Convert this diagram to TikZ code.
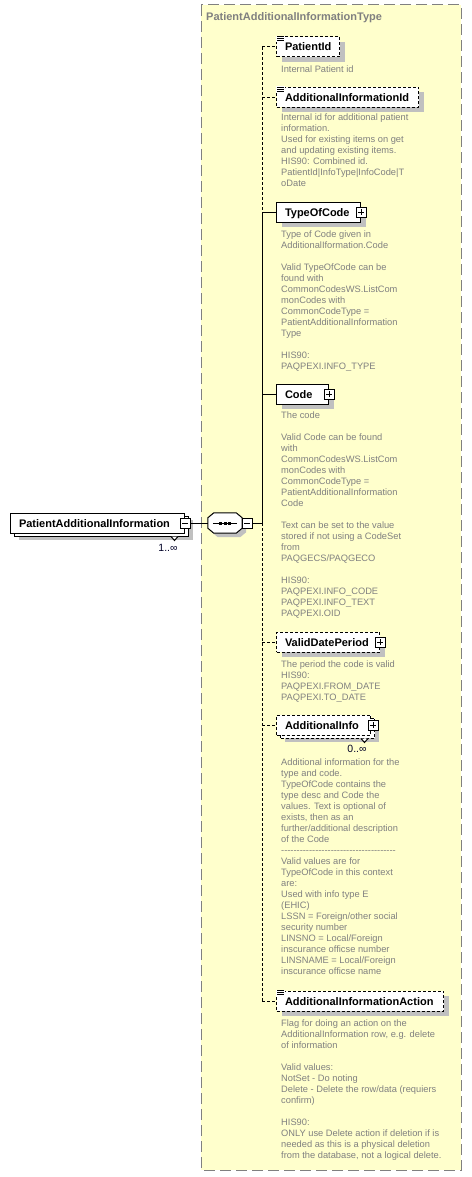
\documentclass[tikz,border=0pt]{standalone}
\usepackage{fontspec}
\setmainfont{Liberation Sans}[Ligatures=TeXOff]
\usetikzlibrary{calc,shadows}
\definecolor{bgyellow}{RGB}{255,255,204}
\definecolor{desc}{RGB}{128,128,128}
\definecolor{shade}{RGB}{192,192,192}
\begin{document}
\begin{tikzpicture}[x=1pt,y=-1pt,
  lw/.style={line width=1pt},
  opt/.style={dash pattern=on 3pt off 2pt},
  elem/.style={draw, fill=white, line width=1pt, minimum height=20, inner ysep=0, inner xsep=8.5,
    align=left, anchor=west, text height=8, text depth=0, font=\bfseries\fontsize{11}{13}\selectfont},
  shd/.style={drop shadow={shadow xshift=5pt, shadow yshift=-5pt, fill=shade, opacity=1}},
  shdm/.style={drop shadow={shadow xshift=4pt, shadow yshift=-4pt, fill=shade, opacity=1}},
  icon/.style={draw, fill=white, line width=1pt, minimum size=10, inner sep=0,
    drop shadow={shadow xshift=1pt, shadow yshift=-1pt, fill=black!70, opacity=1}},
  minusicon/.style={icon, path picture={\draw[line width=1pt] ([xshift=2pt]path picture bounding box.west) -- ([xshift=-2pt]path picture bounding box.east);}},
  plusicon/.style={icon, path picture={\draw[line width=1pt] ([xshift=2pt]path picture bounding box.west) -- ([xshift=-2pt]path picture bounding box.east);
      \draw[line width=1pt] ([yshift=2pt]path picture bounding box.south) -- ([yshift=-2pt]path picture bounding box.north);}},
  desctext/.style={anchor=north west, inner sep=0, align=left, text=desc,
    font=\fontsize{9.3}{11}\selectfont, execute at begin node={\rule{0pt}{8pt}}},
  card/.style={inner sep=0, text=black!85!blue, font=\fontsize{10.5}{12}\selectfont}
]
\useasboundingbox (0,0) rectangle (471,1177);
% outer type frame
\draw[draw=desc, lw, dash pattern=on 11pt off 5pt, fill=bgyellow] (201,5) rectangle (461,1170);
\node[anchor=west, inner sep=0, text=desc, text height=8, text depth=0,
  font=\bfseries\fontsize{11}{13}\selectfont] (title) at (206,17) {PatientAdditionalInformationType};

% left element (multiple)
\node[elem, shdm, text width=157] (lelb) at (14,526) {};
\node[elem, text width=157] (lel) at (10,523) {PatientAdditionalInformation};
\draw[lw, fill=white] ($(lelb.south east)+(-18,0)$) -- ($(lelb.south east)+(-14.5,4)$) -- ($(lelb.south east)+(-11,0)$);
\node[minusicon] (lmin) at (lel.east) {};
\node[card] (card1) at (168,548) {1..∞};

% sequence compositor
\node[minimum width=34, minimum height=20, inner sep=0] (seq) at (225,523) {};
\draw[lw, fill=white, drop shadow={shadow xshift=4pt, shadow yshift=-4pt, fill=shade, opacity=1}]
  ($(seq.north west)+(6,0)$) -- ($(seq.north east)+(-6,0)$) -- ($(seq.north east)+(0,5)$) --
  ($(seq.south east)+(0,-5)$) -- ($(seq.south east)+(-6,0)$) -- ($(seq.south west)+(6,0)$) --
  ($(seq.south west)+(0,-5)$) -- ($(seq.north west)+(0,5)$) -- cycle;
\draw[lw] ($(seq.west)+(5,0)$) -- ($(seq.east)+(-5,0)$);
\foreach \dx in {-4.5,0,4.5}
  \fill ($(seq.center)+(\dx-1.5,-1.5)$) rectangle ($(seq.center)+(\dx+1.5,1.5)$);
\node[minusicon] (smin) at ($(seq.east)+(5,0)$) {};
\coordinate (s0) at (262,523);

% child elements
\node[elem, opt, shd, text width=46] (pid) at (276,47) {PatientId};
\node[elem, opt, shd, text width=125] (aiid) at (276,97.5) {AdditionalInformationId};
\node[elem, shd, text width=67] (toc) at (276,212) {TypeOfCode};
\node[plusicon] (tocp) at (toc.east) {};
\node[elem, shd, text width=35] (code) at (276,394) {Code};
\node[plusicon] (codep) at (code.east) {};
\node[elem, opt, shd, text width=86] (vdp) at (276,642) {ValidDatePeriod};
\node[plusicon] (vdpp) at (vdp.east) {};
\node[elem, opt, shdm, text width=77] (ainfb) at (280,728) {};
\node[elem, opt, text width=77] (ainf) at (276,725) {AdditionalInfo};
\draw[lw, fill=white] ($(ainfb.south east)+(-14,0)$) -- ($(ainfb.south east)+(-10.5,4)$) -- ($(ainfb.south east)+(-7,0)$);
\node[plusicon] (ainfp) at ($(ainf.east)+(2,0)$) {};
\node[card] (card2) at (357,749) {0..∞};
\node[elem, opt, shd, text width=150] (act) at (276,1001) {AdditionalInformationAction};

% simple-type icons
\foreach \n in {pid,aiid,act}{
  \fill[white] ($(\n.north west)+(-0.5,-0.5)$) rectangle ($(\n.north west)+(9,6)$);
  \foreach \d in {0,2,4}
    \draw[line width=0.9pt] ($(\n.north west)+(1,\d)$) -- ($(\n.north west)+(8,\d)$);
}

% connectors
\draw[lw] (lmin.east) -- (seq.west);
\draw[lw] (smin.east) -- (s0);
\draw[lw, opt] (s0 |- pid.west) -- (s0 |- toc.west);
\draw[lw] (s0 |- toc.west) -- (s0);
\draw[lw, opt] (s0) -- (s0 |- act.west);
\draw[lw, opt] (s0 |- pid.west) -- (pid.west);
\draw[lw, opt] (s0 |- aiid.west) -- (aiid.west);
\draw[lw] (s0 |- toc.west) -- (toc.west);
\draw[lw] (s0 |- code.west) -- (code.west);
\draw[lw, opt] (s0 |- vdp.west) -- (vdp.west);
\draw[lw, opt] (s0 |- ainf.west) -- (ainf.west);
\draw[lw, opt] (s0 |- act.west) -- (act.west);

% descriptions
\node[desctext] (d1) at (281,64) {Internal Patient id};
\node[desctext] (d2) at (281,113.5) {Internal id for additional patient\\information.\\Used for existing items on get\\and updating existing items.\\HIS90: Combined id.\\PatientId|InfoType|InfoCode|T\\oDate};
\node[desctext] (d3) at (281,230.5) {Type of Code given in\\AdditionalIformation.Code\\~\\Valid TypeOfCode can be\\found with\\CommonCodesWS.ListCom\\monCodes with\\CommonCodeType =\\PatientAdditionalInformation\\Type\\~\\HIS90:\\PAQPEXI.INFO\_TYPE};
\node[desctext] (d4) at (281,412) {The code\\~\\Valid Code can be found\\with\\CommonCodesWS.ListCom\\monCodes with\\CommonCodeType =\\PatientAdditionalInformation\\Code\\~\\Text can be set to the value\\stored if not using a CodeSet\\from\\PAQGECS/PAQGECO\\~\\HIS90:\\PAQPEXI.INFO\_CODE\\PAQPEXI.INFO\_TEXT\\PAQPEXI.OID};
\node[desctext] (d5) at (281,660.5) {The period the code is valid\\HIS90:\\PAQPEXI.FROM\_DATE\\PAQPEXI.TO\_DATE};
\node[desctext] (d6) at (281,759) {Additional information for the\\type and code.\\TypeOfCode contains the\\type desc and Code the\\values. Text is optional of\\exists, then as an\\further/additional description\\of the Code\\-------------------------------------\\Valid values are for\\TypeOfCode in this context\\are:\\Used with info type E\\(EHIC)\\LSSN = Foreign/other social\\security number\\LINSNO = Local/Foreign\\inscurance officse number\\LINSNAME = Local/Foreign\\inscurance officse name};
\node[desctext] (d7) at (281,1020) {Flag for doing an action on the\\AdditionalInformation row, e.g. delete\\of information\\~\\Valid values:\\NotSet - Do noting\\Delete - Delete the row/data (requiers\\confirm)\\~\\HIS90:\\ONLY use Delete action if deletion if is\\needed as this is a physical deletion\\from the database, not a logical delete.};
\end{tikzpicture}
\end{document}
